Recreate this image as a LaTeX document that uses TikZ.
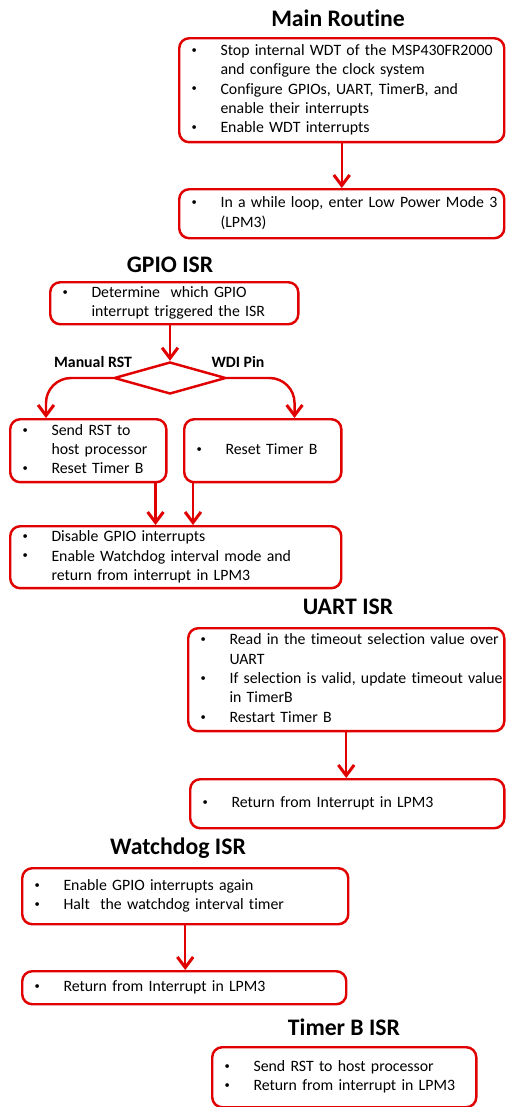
\documentclass[tikz,border=0pt]{standalone}
\usepackage{fontspec}
\setmainfont{Carlito}[Ligatures=NoCommon]
\usetikzlibrary{arrows.meta,shapes.geometric}

\definecolor{flowred}{RGB}{224,0,0}

% bullet list with the line breaks of the picture
\newcommand{\blist}[1]{\begin{tabular}{@{}p{16.5pt}@{}l@{}}#1\end{tabular}}
\newcommand{\bu}{\raisebox{1.2pt}{\fontsize{6}{6}\selectfont\textbullet}}

\begin{document}
\begin{tikzpicture}[x=0.02cm, y=-0.02cm,
	box/.style={rectangle, rounded corners=0.2cm, draw=flowred, line width=1.4pt, anchor=north west,
		inner xsep=7pt, inner ysep=0pt, align=left, font=\fontsize{9}{11}\selectfont},
	title/.style={font=\fontsize{13.5}{15}\bfseries\selectfont},
	lbl/.style={font=\fontsize{9}{11}\bfseries\selectfont},
	arr/.style={draw=flowred, line width=1.4pt, -{Straight Barb[length=6pt,width=9pt,line width=1.7pt]}}]
	\useasboundingbox (0,0) rectangle (505,1107);

	% main routine
	\node[title] (tmain) at (338,18) {Main Routine};
	\node[box, text width=6.01cm, minimum height=2.08cm] (main1) at (178,37) {\blist{
		\bu & Stop internal WDT of the MSP430FR2000\\
		    & and configure the clock system\\
		\bu & Configure GPIOs, UART, TimerB, and\\
		    & enable their interrupts\\
		\bu & Enable WDT interrupts}};
	\node[box, text width=6.01cm, minimum height=0.98cm] (main2) at (178,188) {\blist{
		\bu & In a while loop, enter Low Power Mode 3\\
		    & (LPM3)}};

	% gpio isr
	\node[title] (tgpio) at (170,265) {GPIO ISR};
	\node[box, text width=4.47cm, minimum height=0.84cm] (gpio1) at (49,281) {\blist{
		\bu & Determine \ which GPIO\\
		    & interrupt triggered the ISR}};
	\node[diamond, draw=flowred, line width=1.4pt, inner sep=0pt, minimum width=2.24cm, minimum height=0.64cm] (dec) at (170,378) {};
	\node[lbl] (lman) at (93,362) {Manual RST};
	\node[lbl] (lwdi) at (238,362) {WDI Pin};
	\node[box, text width=2.63cm, minimum height=1.26cm] (rst) at (9,418) {\blist{
		\bu & Send RST to\\
		    & host processor\\
		\bu & Reset Timer B}};
	\node[box, text width=2.65cm, minimum height=1.26cm] (wdi) at (183,418) {\blist{
		\bu & Reset Timer B}};
	\node[box, text width=6.13cm, minimum height=1.24cm] (dis) at (9,525) {\blist{
		\bu & Disable GPIO interrupts\\
		\bu & Enable Watchdog interval mode and\\
		    & return from interrupt in LPM3}};

	% uart isr
	\node[title] (tuart) at (348,607) {UART ISR};
	\node[box, text width=5.83cm, minimum height=2.06cm] (uart1) at (187,627) {\blist{
		\bu & Read in the timeout selection value over\\
		    & UART\\
		\bu & If selection is valid, update timeout value\\
		    & in TimerB\\
		\bu & Restart Timer B}};
	\node[box, text width=5.79cm, minimum height=0.98cm] (uart2) at (189,778) {\blist{
		\bu & Return from Interrupt in LPM3}};

	% watchdog isr
	\node[title] (twd) at (178,848) {Watchdog ISR};
	\node[box, text width=6.03cm, minimum height=1.12cm] (wd1) at (21,867) {\blist{
		\bu & Enable GPIO interrupts again\\
		\bu & Halt \ the watchdog interval timer}};
	\node[box, text width=5.99cm, minimum height=0.66cm] (wd2) at (21,970) {\blist{
		\bu & Return from Interrupt in LPM3}};

	% timer b isr
	\node[title] (ttmr) at (344,1027) {Timer B ISR};
	\node[box, text width=4.79cm, minimum height=1.20cm] (tmr) at (211,1046) {\blist{
		\bu & Send RST to host processor\\
		\bu & Return from interrupt in LPM3}};

	\draw[arr] (main1.south) -- (main1.south |- main2.north);
	\draw[arr] (gpio1.south -| dec.north) -- (dec.north);
	\draw[arr, rounded corners=0.5cm] (dec.west) -| ([xshift=0.74cm]rst.north west);
	\draw[arr, rounded corners=0.5cm] (dec.east) -| ([xshift=-0.96cm]wdi.north east);
	\draw[arr] ([xshift=-0.24cm]rst.south east) -- ([xshift=-0.24cm]rst.south east |- dis.north);
	\draw[arr] ([xshift=0.2cm]wdi.south west) -- ([xshift=0.2cm]wdi.south west |- dis.north);
	\draw[arr] (uart1.south) -- (uart1.south |- uart2.north);
	\draw[arr] (wd1.south) -- (wd1.south |- wd2.north);
\end{tikzpicture}
\end{document}
